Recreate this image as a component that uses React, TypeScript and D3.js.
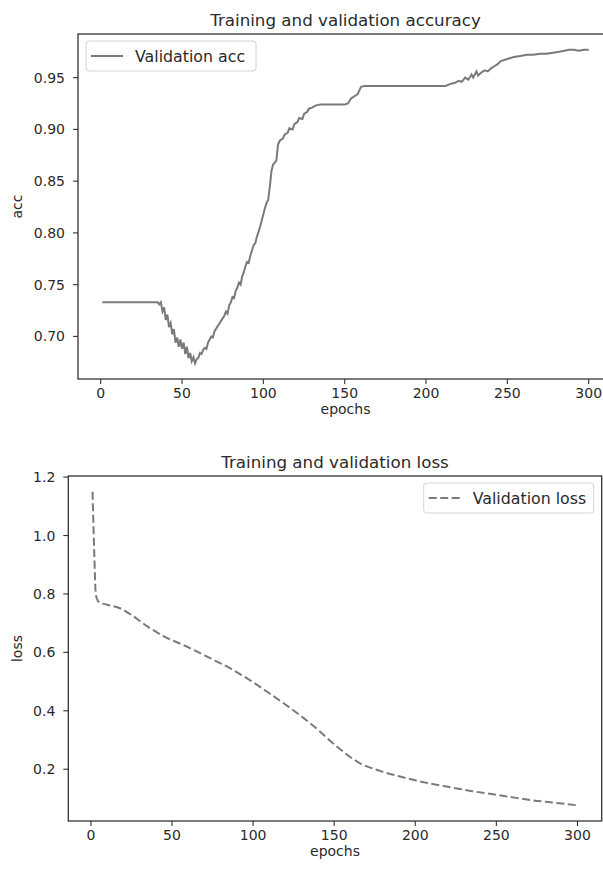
import React from 'react';
import * as d3 from 'd3';

// validation accuracy (epoch, value)
const accEpochs = [
  1, 35, 36, 37, 38, 39, 40, 41, 42, 43, 44, 45, 46, 47, 48, 49, 50, 51, 52, 53, 54, 55, 56, 57, 58, 59,
  60, 61, 62, 63, 64, 65, 66, 67, 68, 69, 70, 72, 74, 76, 77, 78, 79, 80, 81, 82, 83, 84, 85, 86, 87, 88,
  89, 90, 91, 92, 93, 94, 95, 96, 97, 98, 99, 100, 101, 102, 103, 104, 105, 106, 107, 108, 109, 110, 112,
  113, 115, 116, 118, 119, 121, 122, 124, 125, 127, 128, 130, 132, 135, 140, 150, 152, 154, 156, 158, 160,
  162, 170, 190, 212, 215, 218, 220, 222, 224, 226, 228, 229, 231, 232, 234, 236, 238, 240, 242, 244, 246,
  248, 250, 254, 258, 262, 266, 270, 274, 278, 282, 285, 288, 291, 294, 297, 300,
];
const accValues = [
  0.733, 0.733, 0.731, 0.733, 0.724, 0.728, 0.716, 0.721, 0.709, 0.713, 0.702, 0.707, 0.694, 0.699, 0.69,
  0.697, 0.688, 0.694, 0.683, 0.69, 0.679, 0.684, 0.676, 0.68, 0.674, 0.678,
  0.679, 0.684, 0.683, 0.687, 0.689, 0.688, 0.694, 0.697, 0.7, 0.699, 0.705, 0.71, 0.715, 0.72, 0.724,
  0.722, 0.73, 0.733, 0.738, 0.737, 0.744, 0.747, 0.752, 0.75, 0.758, 0.762,
  0.768, 0.772, 0.771, 0.778, 0.783, 0.788, 0.79, 0.796, 0.801, 0.806, 0.812, 0.818, 0.824, 0.829, 0.832,
  0.845, 0.86, 0.866, 0.868, 0.87, 0.885, 0.889, 0.891,
  0.895, 0.897, 0.901, 0.9, 0.905, 0.907, 0.911, 0.91, 0.915, 0.917, 0.92, 0.921, 0.923, 0.924, 0.924,
  0.924, 0.925, 0.93, 0.932, 0.934, 0.941,
  0.942, 0.942, 0.942, 0.942, 0.944, 0.945, 0.947, 0.946, 0.95, 0.948, 0.953, 0.95, 0.956, 0.952, 0.955,
  0.957, 0.956, 0.959, 0.961, 0.963, 0.966,
  0.967, 0.968, 0.97, 0.971, 0.972, 0.972, 0.973, 0.973, 0.974, 0.975, 0.976, 0.977, 0.977, 0.976, 0.977,
  0.977,
];

// validation loss
const lossEpochs = [
  1, 2, 3, 4, 5, 10, 18, 25, 35, 45, 59, 70, 86, 98, 110, 119, 130, 139, 148, 156, 166, 175, 180, 190,
  200, 210, 221, 235, 252, 262, 272, 285, 300,
];
const lossValues = [
  1.15, 0.95, 0.8, 0.78, 0.772, 0.763, 0.751, 0.728, 0.688, 0.655, 0.62, 0.59, 0.545, 0.505, 0.46, 0.425,
  0.38, 0.34, 0.295, 0.258, 0.22, 0.2, 0.191, 0.176, 0.162, 0.15, 0.139, 0.125, 0.111, 0.102, 0.094,
  0.086, 0.0765,
];

const epochTicks = [0, 50, 100, 150, 200, 250, 300];
const accTicks = [0.7, 0.75, 0.8, 0.85, 0.9, 0.95];
const lossTicks = [0.2, 0.4, 0.6, 0.8, 1.0, 1.2];

const FONT = "'DejaVu Sans', sans-serif";
const INK = '#2a2a2a';
const LINE = '#7a7a7a';

// matplotlib-style 5% padding around the data
function padded(vals: number[]): [number, number] {
  const [lo, hi] = d3.extent(vals) as [number, number];
  const m = (hi - lo) * 0.05;
  return [lo - m, hi + m];
}

type PanelProps = {
  box: { left: number; right: number; top: number; bottom: number };
  xs: number[];
  ys: number[];
  yTicks: number[];
  yFmt: (v: number) => string;
  title: string;
  ylabel: string;
  legend: string;
  legendRight: boolean;
  dashed: boolean;
};

function Panel({ box, xs, ys, yTicks, yFmt, title, ylabel, legend, legendRight, dashed }: PanelProps) {
  const x = d3.scaleLinear().domain(padded(xs)).range([box.left, box.right]);
  const y = d3.scaleLinear().domain(padded(ys)).range([box.bottom, box.top]);
  const pts = xs.map((e, i) => [e, ys[i]] as [number, number]);
  const line = d3
    .line<[number, number]>()
    .x((d) => x(d[0]))
    .y((d) => y(d[1]))
    .curve(dashed ? d3.curveMonotoneX : d3.curveLinear);
  const dash = dashed ? '8,3.5' : undefined;

  const lw = 170;
  const lh = 30;
  const lx = legendRight ? box.right - 8 - lw : box.left + 8;
  const ly = box.top + 7;
  const cx = (box.left + box.right) / 2;
  const cy = (box.top + box.bottom) / 2;

  return (
    <g fontFamily={FONT} fill={INK}>
      <text x={cx} y={box.top - 8} textAnchor="middle" fontSize={16.7}>
        {title}
      </text>
      <path d={line(pts) || ''} fill="none" stroke={LINE} strokeWidth={2} strokeDasharray={dash} />
      <rect
        x={box.left}
        y={box.top}
        width={box.right - box.left}
        height={box.bottom - box.top}
        fill="none"
        stroke="#333"
        strokeWidth={1.3}
      />
      {epochTicks.map((t) => (
        <g key={'x' + t}>
          <line x1={x(t)} x2={x(t)} y1={box.bottom} y2={box.bottom + 5} stroke="#333" strokeWidth={1.1} />
          <text x={x(t)} y={box.bottom + 18.5} textAnchor="middle" fontSize={14}>
            {t}
          </text>
        </g>
      ))}
      {yTicks.map((t) => (
        <g key={'y' + t}>
          <line x1={box.left - 5} x2={box.left} y1={y(t)} y2={y(t)} stroke="#333" strokeWidth={1.1} />
          <text x={box.left - 13} y={y(t)} dy="0.36em" textAnchor="end" fontSize={14}>
            {yFmt(t)}
          </text>
        </g>
      ))}
      <text x={cx} y={box.bottom + 35} textAnchor="middle" fontSize={14}>
        epochs
      </text>
      <text transform={`translate(22,${cy}) rotate(-90)`} textAnchor="middle" fontSize={14}>
        {ylabel}
      </text>
      <g>
        <rect x={lx} y={ly} width={lw} height={lh} rx={3} fill="#fff" fillOpacity={0.8} stroke="#d4d4d4" />
        <line
          x1={lx + 5}
          x2={lx + 37}
          y1={ly + lh / 2}
          y2={ly + lh / 2}
          stroke={LINE}
          strokeWidth={2}
          strokeDasharray={dash}
        />
        <text x={lx + 49} y={ly + lh / 2} dy="0.36em" fontSize={15.8}>
          {legend}
        </text>
      </g>
    </g>
  );
}

export default function App() {
  return (
    <svg
      width={603}
      height={875}
      style={{ position: 'absolute', left: 0, top: 0, background: '#fff' }}
    >
      <rect width={603} height={875} fill="#fff" />
      <Panel
        box={{ left: 78, right: 613, top: 34, bottom: 379 }}
        xs={accEpochs}
        ys={accValues}
        yTicks={accTicks}
        yFmt={d3.format('.2f')}
        title="Training and validation accuracy"
        ylabel="acc"
        legend="Validation acc"
        legendRight={false}
        dashed={false}
      />
      <Panel
        box={{ left: 68.3, right: 601.7, top: 476, bottom: 821 }}
        xs={lossEpochs}
        ys={lossValues}
        yTicks={lossTicks}
        yFmt={d3.format('.1f')}
        title="Training and validation loss"
        ylabel="loss"
        legend="Validation loss"
        legendRight={true}
        dashed={true}
      />
    </svg>
  );
}
